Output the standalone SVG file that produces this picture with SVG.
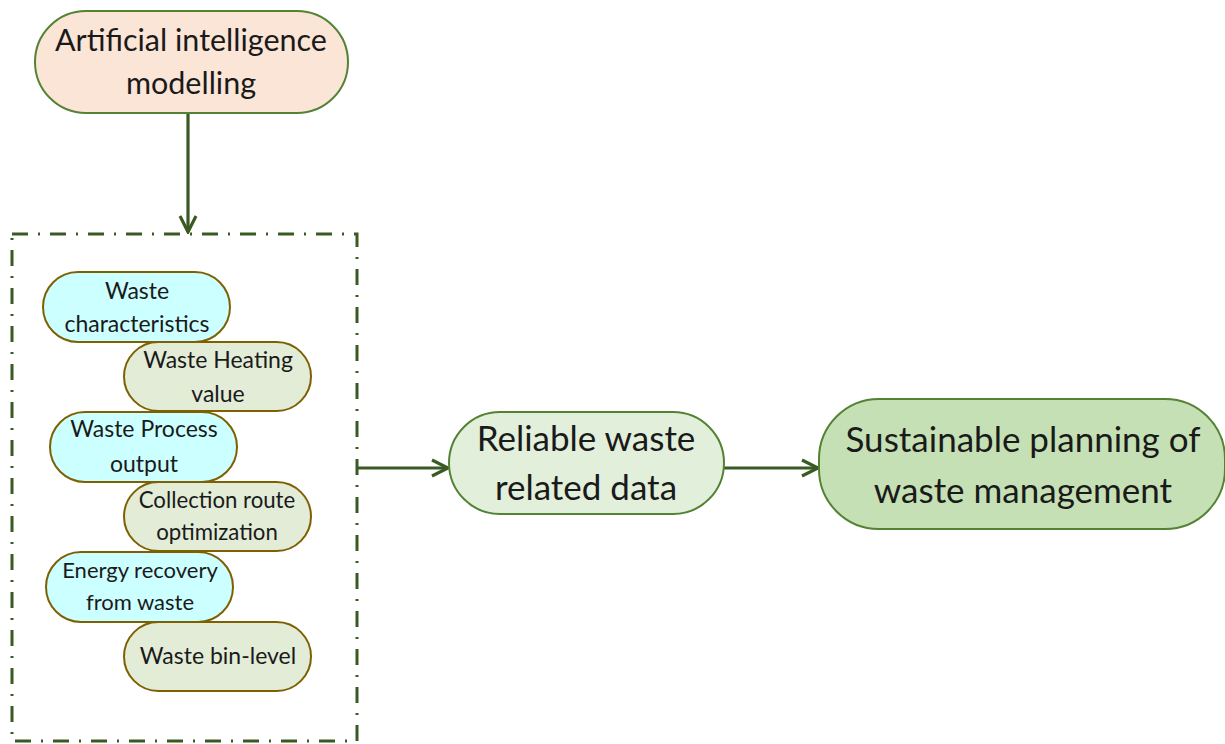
<svg xmlns="http://www.w3.org/2000/svg" width="1225" height="744" viewBox="0 0 1225 744">
<style>
.t{font-family:Lato,"Open Sans","Liberation Sans",sans-serif;fill:#1a1a1a;text-anchor:middle}
.big{stroke:#548235;stroke-width:2}
.sm{stroke:#7F6000;stroke-width:2}
.cn{stroke:#3A5A24;stroke-width:3.2;fill:none}
</style>
<defs>
<marker id="ah" viewBox="0 0 12 12" refX="11" refY="6" markerWidth="6" markerHeight="6" markerUnits="strokeWidth" orient="auto">
<path d="M1,1 L11,6 L1,11" fill="none" stroke="#3A5A24" stroke-width="2"/>
</marker>
</defs>
<rect width="1225" height="744" fill="#fff"/>
<g id="connectors">
<line class="cn" x1="188" y1="113" x2="188" y2="232" marker-end="url(#ah)"/>
<line class="cn" x1="357" y1="468" x2="448" y2="468" marker-end="url(#ah)"/>
<line class="cn" x1="724" y1="468" x2="818" y2="468" marker-end="url(#ah)"/>
</g>
<g id="group-box">
<rect x="12" y="234" width="345" height="507" fill="none" stroke="#3A5A24" stroke-width="3" stroke-dasharray="16,10,2,10"/>
</g>
<g id="n-ai">
<rect class="big" x="35" y="11" width="313" height="102" rx="51" fill="#FBE5D6"/>
<text class="t" x="191" y="51" font-size="30.5">Artificial intelligence</text>
<text class="t" x="191" y="94" font-size="30.5">modelling</text>
</g>
<g id="n-char">
<rect class="sm" x="43" y="272" width="187" height="70" rx="35" fill="#CCFFFF"/>
<text class="t" x="137" y="299" font-size="23">Waste</text>
<text class="t" x="137" y="332" font-size="23">characteristics</text>
</g>
<g id="n-heat">
<rect class="sm" x="124" y="342" width="187" height="69" rx="34.5" fill="#E2ECD7"/>
<text class="t" x="218" y="368" font-size="23">Waste Heating</text>
<text class="t" x="218" y="402" font-size="23">value</text>
</g>
<g id="n-proc">
<rect class="sm" x="50" y="412" width="187" height="70" rx="35" fill="#CCFFFF"/>
<text class="t" x="144" y="437" font-size="23">Waste Process</text>
<text class="t" x="144" y="472" font-size="23">output</text>
</g>
<g id="n-route">
<rect class="sm" x="124" y="482" width="187" height="69" rx="34.5" fill="#E2ECD7"/>
<text class="t" x="217" y="508" font-size="22.2">Collection route</text>
<text class="t" x="217" y="540" font-size="22.2">optimization</text>
</g>
<g id="n-energy">
<rect class="sm" x="46" y="552" width="187" height="70" rx="35" fill="#CCFFFF"/>
<text class="t" x="140" y="578" font-size="22">Energy recovery</text>
<text class="t" x="140" y="610" font-size="22">from waste</text>
</g>
<g id="n-bin">
<rect class="sm" x="124" y="622" width="187" height="69" rx="34.5" fill="#E2ECD7"/>
<text class="t" x="218" y="664" font-size="23">Waste bin-level</text>
</g>
<g id="n-reliable">
<rect class="big" x="449" y="412" width="275" height="102" rx="51" fill="#E2EFDA"/>
<text class="t" x="586" y="451" font-size="35">Reliable waste</text>
<text class="t" x="586" y="500" font-size="35">related data</text>
</g>
<g id="n-sustain">
<rect class="big" x="819" y="399" width="406" height="130" rx="60" fill="#C5E0B4"/>
<text class="t" x="1023" y="452" font-size="35">Sustainable planning of</text>
<text class="t" x="1023" y="503" font-size="35">waste management</text>
</g>
</svg>
